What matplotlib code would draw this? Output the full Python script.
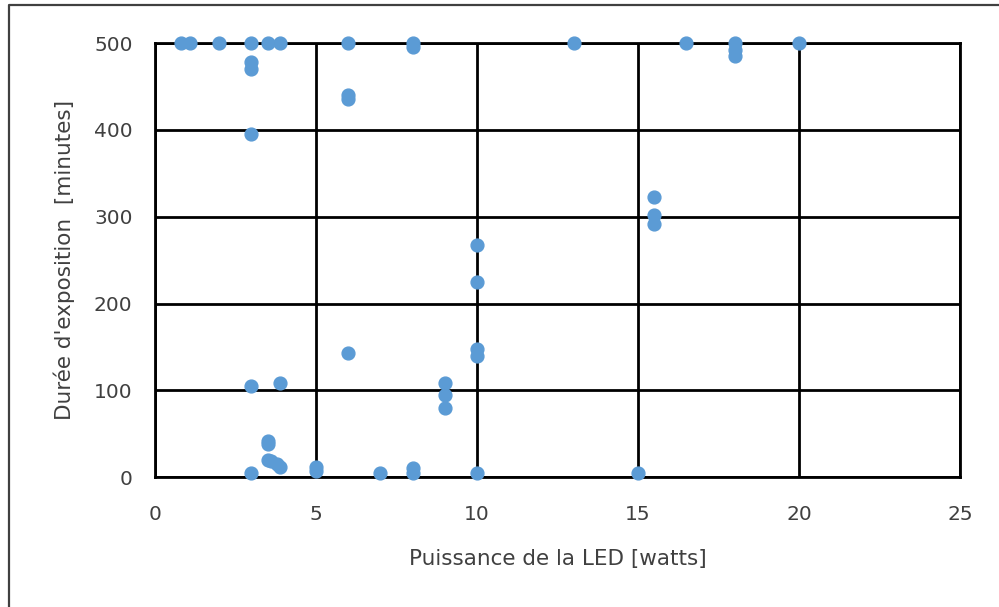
import matplotlib
matplotlib.use("Agg")
import matplotlib.pyplot as plt
from matplotlib.lines import Line2D

# LED power (watts) vs exposure time (minutes)
power = [0.8, 1.1, 2, 3, 3.5, 3.9, 3, 3, 3, 3, 3,
         3.5, 3.5, 3.5, 3.6, 3.8, 3.9, 3.9,
         5, 5, 6, 6, 6, 6, 7, 8, 8, 8, 8,
         9, 9, 9, 10, 10, 10, 10, 10, 13, 15,
         15.5, 15.5, 15.5, 16.5, 18, 18, 18, 20]
duree = [500, 500, 500, 500, 500, 500, 478, 470, 395, 105, 5,
         42, 38, 20, 18, 15, 12, 108,
         12, 7, 500, 440, 436, 143, 5, 500, 495, 10, 5,
         108, 95, 80, 267, 225, 148, 140, 5, 500, 5,
         323, 302, 292, 500, 500, 492, 485, 500]

plt.rcParams["font.family"] = ["DejaVu Sans"]
txt = "#404040"

fig = plt.figure(figsize=(9.99, 6.07), dpi=100)
ax = fig.add_axes([0.155, 0.214, 0.806, 0.715])

ax.scatter(power, duree, s=85, color="#5B9BD5", zorder=3, clip_on=False)

ax.set_xlim(0, 25)
ax.set_ylim(0, 500)
ax.set_xticks([0, 5, 10, 15, 20, 25])
ax.set_yticks([0, 100, 200, 300, 400, 500])
ax.grid(True, color="black", linewidth=2)
ax.set_axisbelow(True)
for side in ax.spines:
    ax.spines[side].set_linewidth(2)
ax.tick_params(axis="x", length=0, labelsize=14.5, pad=20, labelcolor=txt)
ax.tick_params(axis="y", length=0, labelsize=14.5, pad=16, labelcolor=txt)

ax.set_xlabel("Puissance de la LED [watts]", fontsize=15.5, labelpad=18, color=txt)
ax.set_ylabel("Durée d'exposition  [minutes]", fontsize=15.5, labelpad=14, color=txt)

# outer frame (only left and top edges are visible in the crop)
fig.add_artist(Line2D([0.009, 0.009, 1.0], [0.0, 0.992, 0.992],
                      transform=fig.transFigure, color="#404040", linewidth=1.6))

fig.savefig("out.png", dpi=100)
